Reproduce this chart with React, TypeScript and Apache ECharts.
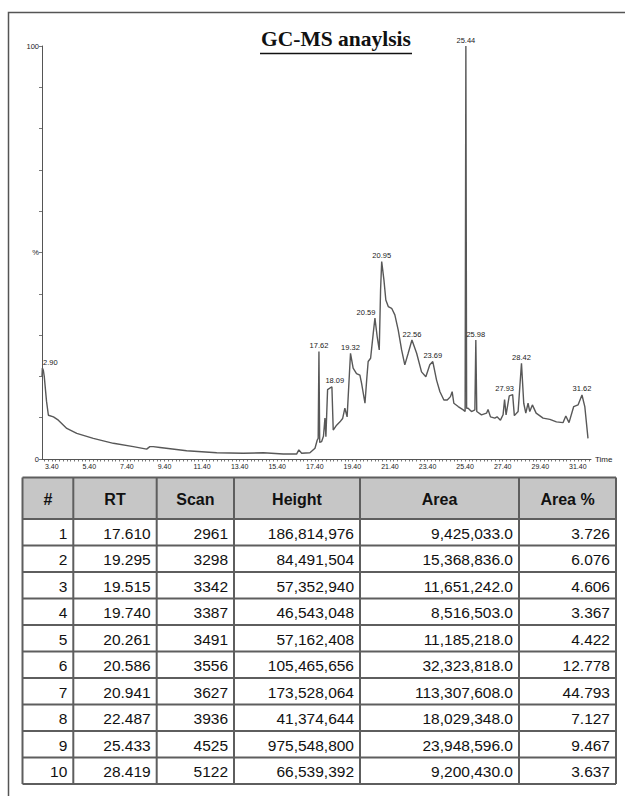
import React, { useEffect, useRef } from 'react';
import * as echarts from 'echarts';

const titleText = 'GC-MS anaylsis';

// chromatogram: retention time (min) and relative abundance (%)
const chromRT = [
  2.88, 2.9, 2.95, 3.0, 3.12, 3.22, 3.49, 3.75, 4.2, 4.73, 5.61, 6.68, 7.74, 8.45, 8.62, 8.8, 9.16,
  10.58, 12.18, 13.59, 14.66, 15.72, 16.43, 16.55, 16.7, 17.14, 17.41, 17.53, 17.58, 17.62, 17.66,
  17.76, 17.86, 17.94, 17.99, 18.08, 18.31, 18.38, 18.56, 18.74, 18.88, 19.0, 19.12, 19.3, 19.44,
  19.62, 19.8, 19.89, 20.07, 20.16, 20.24, 20.37, 20.51, 20.6, 20.72, 20.83, 20.9, 20.96, 21.08,
  21.18, 21.31, 21.49, 21.66, 21.84, 22.02, 22.19, 22.37, 22.57, 22.82, 23.08, 23.31, 23.52, 23.68,
  23.88, 24.06, 24.27, 24.45, 24.62, 24.71, 24.8, 25.03, 25.3, 25.4, 25.44, 25.48, 25.56, 25.74,
  25.92, 25.97, 26.02, 26.27, 26.54, 26.62, 26.75, 26.98, 27.1, 27.28, 27.42, 27.5, 27.58, 27.75,
  27.93, 28.02, 28.22, 28.4, 28.52, 28.63, 28.75, 28.84, 28.98, 29.18, 29.55, 29.91, 30.26, 30.61,
  30.76, 30.93, 31.18, 31.41, 31.62, 31.77, 31.94
];
const chromPct = [
  20.0, 22.0, 21.5, 20.0, 14.0, 10.6, 10.2, 9.4, 7.4, 6.2, 5.0, 3.8, 3.0, 2.4, 3.0, 3.0, 2.8,
  2.0, 1.5, 1.4, 1.5, 1.2, 1.2, 2.2, 1.4, 1.5, 2.6, 4.6, 5.0, 26.0, 4.0,
  4.2, 5.5, 9.9, 5.4, 16.8, 17.5, 7.0, 8.2, 9.0, 9.8, 12.3, 10.2, 25.6, 22.0,
  20.7, 20.3, 18.3, 13.5, 19.1, 23.6, 24.4, 30.4, 34.1, 29.6, 26.4, 40.9, 47.8, 43.3,
  38.5, 36.9, 36.5, 34.9, 31.2, 26.4, 22.8, 25.6, 28.8, 25.6, 21.1, 19.9, 22.8, 23.6,
  19.1, 16.3, 14.3, 14.3, 15.1, 16.3, 13.5, 12.7, 11.9, 11.5, 100, 12.3, 12.3, 11.5,
  11.9, 28.8, 11.5, 10.7, 11.1, 12.0, 10.2, 9.9, 10.2, 9.4, 10.7, 14.4, 10.7, 15.3,
  15.6, 10.5, 11.5, 23.2, 13.5, 11.1, 13.5, 11.5, 13.1, 11.1, 9.9, 9.6, 9.0, 8.8,
  10.4, 8.8, 12.7, 13.1, 15.5, 12.7, 5.0
];

// peak annotations
const peakLabels = ['2.90', '17.62', '18.09', '19.32', '20.59', '20.95', '22.56', '23.69', '25.44', '25.98', '27.93', '28.42', '31.62'];
const peakRT = [2.9, 17.62, 18.09, 19.3, 20.6, 20.96, 22.57, 23.68, 25.44, 25.97, 27.93, 28.4, 31.62];
const peakPct = [22.0, 26.0, 17.5, 25.6, 34.1, 47.8, 28.8, 23.6, 100, 28.8, 15.6, 23.2, 15.5];

const xTickLabels = [3.4, 5.4, 7.4, 9.4, 11.4, 13.4, 15.4, 17.4, 19.4, 21.4, 23.4, 25.4, 27.4, 29.4, 31.4];
const yTickLabels = [0, 50, 100];
const yTicks = [0, 10, 20, 30, 40, 50, 60, 70, 80, 90, 100];

// peak table
const tableHeaders = ['#', 'RT', 'Scan', 'Height', 'Area', 'Area %'];
const rowNo = [1, 2, 3, 4, 5, 6, 7, 8, 9, 10];
const rtValues = [17.61, 19.295, 19.515, 19.74, 20.261, 20.586, 20.941, 22.487, 25.433, 28.419];
const scanValues = [2961, 3298, 3342, 3387, 3491, 3556, 3627, 3936, 4525, 5122];
const heightValues = [186814976, 84491504, 57352940, 46543048, 57162408, 105465656, 173528064, 41374644, 975548800, 66539392];
const areaValues = [9425033.0, 15368836.0, 11651242.0, 8516503.0, 11185218.0, 32323818.0, 113307608.0, 18029348.0, 23948596.0, 9200430.0];
const areaPctValues = [3.726, 6.076, 4.606, 3.367, 4.422, 12.778, 44.793, 7.127, 9.467, 3.637];

const SANS = '"Liberation Sans", Arial, sans-serif';

export default function App() {
  const ref = useRef<HTMLDivElement>(null);

  useEffect(() => {
    if (!ref.current) return;
    const chart = echarts.init(ref.current, null, { renderer: 'svg' });

    const minorTicks: number[] = [];
    for (let i = 0; i <= 145; i++) minorTicks.push(+(3.0 + 0.2 * i).toFixed(1));

    const labelOffsets: Record<string, number[]> = {
      '2.90': [8, 0],
      '18.09': [7, 0],
      '20.59': [-9, 0],
      '27.93': [-8, 0],
    };

    // table layout
    const colX = [22.5, 73.3, 156.7, 234, 360, 519, 616];
    const tableTop = 477.5;
    const headerH = 41.5;
    const rowH = 26.5;
    const tableBottom = tableTop + headerH + rowH * rowNo.length;
    const fmtInt = (v: number) => v.toLocaleString('en-US');
    const fmtArea = (v: number) => v.toLocaleString('en-US', { minimumFractionDigits: 1, maximumFractionDigits: 1 });
    const rows = rowNo.map((n, i) => [
      String(n),
      rtValues[i].toFixed(3),
      String(scanValues[i]),
      fmtInt(heightValues[i]),
      fmtArea(areaValues[i]),
      areaPctValues[i].toFixed(3),
    ]);

    const tableEls: any[] = [];
    tableEls.push({
      type: 'rect',
      shape: { x: colX[0], y: tableTop, width: colX[6] - colX[0], height: headerH },
      style: { fill: '#c6c6c6' },
    });
    tableEls.push({
      type: 'rect',
      shape: { x: colX[0], y: tableTop + headerH, width: colX[6] - colX[0], height: rowH * rowNo.length },
      style: { fill: '#ffffff' },
    });
    for (let r = 0; r <= rowNo.length + 1; r++) {
      const y = r === 0 ? tableTop : tableTop + headerH + rowH * (r - 1);
      tableEls.push({
        type: 'line',
        shape: { x1: colX[0], y1: y, x2: colX[6], y2: y },
        style: { stroke: '#5e5e5e', lineWidth: 2 },
      });
    }
    colX.forEach((x) => {
      tableEls.push({
        type: 'line',
        shape: { x1: x, y1: tableTop, x2: x, y2: tableBottom },
        style: { stroke: '#5e5e5e', lineWidth: 2 },
      });
    });
    tableHeaders.forEach((h, c) => {
      tableEls.push({
        type: 'text',
        style: {
          text: h,
          x: (colX[c] + colX[c + 1]) / 2,
          y: tableTop + headerH / 2 + 1,
          align: 'center',
          verticalAlign: 'middle',
          font: `bold 16px ${SANS}`,
          fill: '#111',
        },
      });
    });
    rows.forEach((row, r) => {
      row.forEach((cell, c) => {
        tableEls.push({
          type: 'text',
          style: {
            text: cell,
            x: colX[c + 1] - 6,
            y: tableTop + headerH + rowH * r + rowH / 2 + 1,
            align: 'right',
            verticalAlign: 'middle',
            font: `15.5px ${SANS}`,
            fill: '#111',
          },
        });
      });
    });

    const option: any = {
      animation: false,
      backgroundColor: '#ffffff',
      grid: { left: 42, right: 34, top: 46, bottom: 337, containLabel: false },
      xAxis: {
        type: 'value',
        min: 2.88,
        max: 32.1,
        name: 'Time',
        nameLocation: 'end',
        nameGap: 4,
        nameTextStyle: { fontSize: 8, color: '#222', fontFamily: SANS, verticalAlign: 'middle' },
        axisLine: { show: true, onZero: false, lineStyle: { color: '#555', width: 1 } },
        axisTick: { show: true, customValues: minorTicks, length: 2.5, lineStyle: { color: '#555', width: 0.8 } },
        axisLabel: {
          customValues: xTickLabels,
          formatter: (v: number) => v.toFixed(2),
          fontSize: 7,
          color: '#222',
          fontFamily: SANS,
          margin: 4,
        },
        splitLine: { show: false },
      },
      yAxis: {
        type: 'value',
        min: 0,
        max: 100,
        axisLine: { show: true, lineStyle: { color: '#555', width: 1 } },
        axisTick: { show: true, customValues: yTicks, length: 3, lineStyle: { color: '#555', width: 0.8 } },
        axisLabel: {
          customValues: yTickLabels,
          formatter: (v: number) => (v === 50 ? '%' : String(v)),
          fontSize: 7.5,
          color: '#222',
          fontFamily: SANS,
          margin: 3,
        },
        splitLine: { show: false },
      },
      series: [
        {
          type: 'line',
          data: chromRT.map((t, i) => [t, chromPct[i]]),
          symbol: 'none',
          lineStyle: { color: '#585858', width: 1.4 },
          silent: true,
          z: 2,
          markPoint: {
            silent: true,
            symbol: 'circle',
            symbolSize: 0,
            itemStyle: { color: '#222222' },
            label: {
              show: true,
              position: 'top',
              distance: 2,
              color: '#222222',
              fontSize: 7.5,
              fontFamily: SANS,
              formatter: (p: any) => p.name,
            },
            data: peakRT.map((t, i) => ({
              name: peakLabels[i],
              coord: [t, peakPct[i]],
              label: { offset: labelOffsets[peakLabels[i]] || [0, 0], color: '#222222' },
            })),
          },
        },
      ],
      graphic: [
        {
          type: 'rect',
          shape: { x: 8.5, y: 12.5, width: 700, height: 900 },
          style: { fill: 'none', stroke: '#555', lineWidth: 1.5 },
          z: 0,
        },
        {
          type: 'text',
          style: {
            text: titleText,
            x: 336,
            y: 50,
            align: 'center',
            verticalAlign: 'bottom',
            font: 'bold 21.5px "Liberation Serif", "Times New Roman", serif',
            fill: '#111',
          },
        },
        {
          type: 'line',
          shape: { x1: 260, y1: 53.5, x2: 412, y2: 53.5 },
          style: { stroke: '#111', lineWidth: 1.6 },
        },
        ...tableEls,
      ],
    };

    chart.setOption(option);
    return () => chart.dispose();
  }, []);

  return (
    <div
      ref={ref}
      style={{ position: 'absolute', left: 0, top: 0, width: 625, height: 796, background: '#fff' }}
    />
  );
}
